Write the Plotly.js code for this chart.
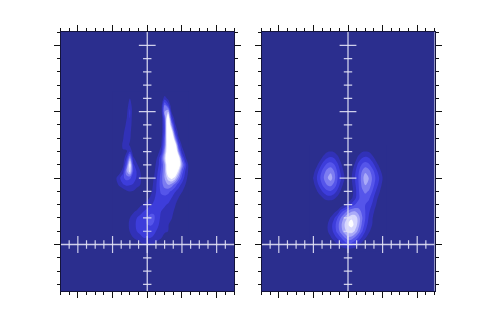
<!DOCTYPE html>
<html><head><meta charset="utf-8">
<script src="https://cdn.plot.ly/plotly-3.0.1.min.js"></script>
<style>html,body{margin:0;padding:0;background:#fff}#c{width:485px;height:323px;filter:blur(0.35px)}</style>
</head><body><div id="c"></div>
<script>
// Grid positions (axis units) and hand-read intensity levels, rows from bottom to top
const leftX=[-1,-.9,-.8,-.7,-.6,-.5,-.4,-.3,-.2,-.1,0,.1,.2,.3,.4,.5,.6,.7,.8,.9,1,1.1,1.2];
const leftY=[-.1,0,.1,.2,.3,.4,.5,.6,.7,.8,.9,1,1.1,1.2,1.3,1.4,1.5,1.6,1.7,1.8,1.9,2,2.1,2.2,2.3];
const leftZ=[
[0,0,0,0,0,0,0,0,0,0,0,0,0,0,0,0,0,0,0,0,0,0,0],
[0,0,0,0,0,0,0,0,.6,1,1.2,1.1,.9,.3,0,0,0,0,0,0,0,0,0],
[0,0,0,0,0,.2,1,1.5,1.8,2,2,2,1.8,1.5,1.1,.5,0,0,0,0,0,0,0],
[0,0,0,0,.3,1.1,1.6,2,2.2,2.4,2.5,2.5,2.2,1.8,1.4,1.2,1,.3,0,0,0,0,0],
[0,0,0,0,.6,1.2,1.8,2.1,2.5,2.8,3,3.1,2.9,2.2,1.6,1.3,1.1,.6,0,0,0,0,0],
[0,0,0,0,.4,1,1.6,2,2.4,2.8,3.1,3.3,3.1,2.4,1.8,1.5,1.3,1.1,.4,0,0,0,0],
[0,0,0,0,0,.3,.8,1.2,1.6,2,2.4,2.8,2.9,2.5,2,1.8,1.6,1.3,.8,.2,0,0,0],
[0,0,0,0,0,0,0,0,.8,1.1,1.5,1.9,2.2,2.3,2.2,2.1,1.9,1.5,1.1,.5,0,0,0],
[0,0,0,0,0,0,0,0,0,0,.7,1.2,1.9,2.4,2.7,2.7,2.5,2,1.4,1,.4,0,0],
[0,0,0,.3,.8,1,.9,.4,0,0,.2,.7,1.5,2.4,3.2,3.5,3.3,2.8,2.1,1.6,1.1,.4,0],
[0,.5,1.3,1.9,2.2,2.1,1.9,1.5,1,.1,0,.5,1.3,2.4,3.5,4.5,5,4.6,3.6,2.5,1.7,1,.2],
[0,.9,1.8,2.8,3.4,3.2,2.4,1.9,1.2,.2,0,.4,1.1,2.2,3.5,5,6.5,7.5,6.5,4.5,2.7,1.5,.5],
[0,0,.5,1.6,4.8,6.5,2.8,1.9,1,0,0,.2,.8,2,3.2,5,8.5,10.5,9,6.5,3.6,1.9,.7],
[0,0,0,.7,3.2,7.5,2.2,1.2,.3,0,0,0,.6,1.6,2.8,5,9,12,12,8.8,5,2.5,.7],
[0,0,0,.3,2,5,1.2,.5,0,0,0,0,.4,1.2,3,6,10,12,12,8.5,3.5,1.2,0],
[0,0,.1,.9,.8,2,.3,0,0,0,0,0,0,.6,1.5,5,9,12,10.5,5,1.6,.5,0],
[0,0,.3,1.2,1.7,.8,0,0,0,0,0,0,0,.2,.9,4,9,12,8.5,3,.8,0,0],
[0,0,0,.9,2,1.2,0,0,0,0,0,0,0,0,.5,3.5,9.5,10.5,5,1.2,.2,0,0],
[0,0,0,.5,1.9,1.4,0,0,0,0,0,0,0,0,.2,3,10,8,2.5,.5,0,0,0],
[0,0,0,.1,1.3,1.8,0,0,0,0,0,0,0,0,.1,3,10,5,1.2,0,0,0,0],
[0,0,0,0,.9,2,.1,0,0,0,0,0,0,0,0,3.5,9,2.5,.4,0,0,0,0],
[0,0,0,0,.6,2.2,.2,0,0,0,0,0,0,0,.2,5,6,1,0,0,0,0,0],
[0,0,0,0,.3,1.7,.2,0,0,0,0,0,0,0,.3,4,2.5,.2,0,0,0,0,0],
[0,0,0,0,0,1,0,0,0,0,0,0,0,0,0,1.6,.7,0,0,0,0,0,0],
[0,0,0,0,0,0,0,0,0,0,0,0,0,0,0,0,0,0,0,0,0,0,0]
];
const rightX=[-1.1,-1,-.9,-.8,-.7,-.6,-.5,-.4,-.3,-.2,-.1,0,.1,.2,.3,.4,.5,.6,.7,.8,.9,1,1.1];
const rightY=[-.1,0,.1,.2,.3,.4,.5,.6,.7,.8,.9,1,1.1,1.2,1.3,1.4,1.5];
const rightZ=[
[0,0,0,0,0,0,0,0,0,0,0,0,0,0,0,0,0,0,0,0,0,0,0],
[0,0,0,0,0,0,0,.4,1,1.5,2.2,2.7,2.5,1.9,1.2,.6,0,0,0,0,0,0,0],
[0,0,0,0,0,.4,.9,1.5,2.2,3,3.9,4.6,4.6,3.8,2.9,1.9,1.1,.5,0,0,0,0,0],
[0,0,0,0,.3,.9,1.4,2.4,3.4,4.5,5.6,6.5,6.6,5.9,4.6,3.2,2,1.2,.6,0,0,0,0],
[0,0,0,0,.3,.9,1.6,2.5,3.6,4.8,6,7,7.3,6.8,5.5,3.9,2.6,1.6,1,.3,0,0,0],
[0,0,0,0,0,.6,1.1,1.9,3,4.1,5.3,6.2,6.9,6.8,5.6,4.2,3,1.9,1.1,.4,0,0,0],
[0,0,0,0,0,0,.3,.7,1.2,2.6,3.4,4.3,4.9,5,4.5,3.8,3,2.2,1.4,.7,0,0,0],
[0,0,0,0,0,0,0,0,0,.3,.8,1.5,2.3,3,3.4,3.3,3,2.6,1.9,1.1,.3,0,0],
[0,0,0,.6,1.1,1.5,1.5,1.2,.7,0,0,.2,.8,1.7,2.8,3.5,3.6,3.2,2.4,1.4,.7,0,0],
[0,0,.9,1.6,2.3,2.8,2.9,2.5,1.7,.8,0,0,.5,1.5,2.8,3.8,4.2,3.9,3,2,1.2,.3,0],
[0,.7,1.6,2.5,3.4,4.1,4.3,3.7,2.6,1.5,.5,0,.7,1.8,2.9,4.2,5.1,4.7,3.6,2.6,1.7,.7,0],
[.3,1.1,2,3,4,4.9,5.5,4.4,3,2,1,0,.9,2,3,4.4,5.7,5,3.9,2.9,2,1,.2],
[0,.7,1.6,2.6,3.6,4.4,4.8,4,2.8,1.7,.7,0,.7,1.8,2.8,4,4.8,4.4,3.5,2.5,1.5,.6,0],
[0,.1,.8,1.7,2.6,3.3,3.5,3.1,2.2,1.2,.2,0,.2,1.2,2.3,3.1,3.5,3.2,2.5,1.6,.8,.1,0],
[0,0,0,.7,1.5,2,2.2,2,1.4,.5,0,0,0,.5,1.4,2,2.3,2.1,1.5,.7,0,0,0],
[0,0,0,0,.4,.9,1,.9,.4,0,0,0,0,0,.4,.9,1,.9,.4,0,0,0,0],
[0,0,0,0,0,0,0,0,0,0,0,0,0,0,0,0,0,0,0,0,0,0,0]
];
const levelStops=[[0,'#2b2e8e'],[.03,'#2b2e8e'],[.0625,'#3030b4'],[.1875,'#3939d8'],[.3125,'#4a4ae8'],[.4375,'#6868ee'],[.5625,'#9090f4'],[.6875,'#b8b8fa'],[.8125,'#e0e0ff'],[.9375,'#ffffff'],[1,'#ffffff']];
const xMajor=[-2,-1,0,1,2];
const xMinor=[-2.25,-1.75,-1.5,-1.25,-.75,-.5,-.25,.25,.5,.75,1.25,1.5,1.75,2.25];
const yMajor=[0,1,2,3];
const yMinor=[-.6,-.4,-.2,.2,.4,.6,.8,1.2,1.4,1.6,1.8,2.2,2.4,2.6,2.8];
const xRange=[-2.5,2.5], yRange=[-.7,3.2];

function contour(x,y,z,xa,ya){return {type:'contour',x,y,z,xaxis:xa,yaxis:ya,showscale:false,hoverinfo:'skip',
  zmin:0,zmax:8,colorscale:levelStops,autocontour:false,
  contours:{start:1,end:8,size:1,coloring:'fill',showlines:false},line:{width:0,smoothing:1.0}};}
function cross(xa,ya){
  const crossColor='rgba(225,225,245,0.9)';
  const mk=(size)=>({symbol:'line-ns',size,line:{color:crossColor,width:1.2}});
  const mkh=(size)=>({symbol:'line-ew',size,line:{color:crossColor,width:1.2}});
  return [
   {type:'scatter',mode:'lines',x:xRange,y:[0,0],xaxis:xa,yaxis:ya,line:{color:crossColor,width:1.3},hoverinfo:'skip'},
   {type:'scatter',mode:'lines',x:[0,0],y:yRange,xaxis:xa,yaxis:ya,line:{color:crossColor,width:1.3},hoverinfo:'skip'},
   {type:'scatter',mode:'markers',x:xMajor,y:xMajor.map(()=>0),xaxis:xa,yaxis:ya,marker:mk(12),hoverinfo:'skip'},
   {type:'scatter',mode:'markers',x:xMinor,y:xMinor.map(()=>0),xaxis:xa,yaxis:ya,marker:mk(6),hoverinfo:'skip'},
   {type:'scatter',mode:'markers',x:yMajor.map(()=>0),y:yMajor,xaxis:xa,yaxis:ya,marker:mkh(12),hoverinfo:'skip'},
   {type:'scatter',mode:'markers',x:yMinor.map(()=>0),y:yMinor,xaxis:xa,yaxis:ya,marker:mkh(6),hoverinfo:'skip'}
  ];
}
const frame='#14143c';
function xa(dom,anc){return {domain:dom,anchor:anc,range:xRange,showgrid:false,zeroline:false,showticklabels:false,showline:true,linecolor:frame,linewidth:1,mirror:'ticks',ticks:'outside',ticklen:6,tickwidth:1,tickcolor:'#111',tick0:0,dtick:1,minor:{ticks:'outside',ticklen:3,tickwidth:1,tickcolor:'#111',dtick:.25,tick0:0,showgrid:false}};}
function ya(anc){return {domain:[1-291/323,1-32/323],anchor:anc,range:yRange,showgrid:false,zeroline:false,showticklabels:false,showline:true,linecolor:frame,linewidth:1,mirror:'ticks',ticks:'outside',ticklen:6,tickwidth:1,tickcolor:'#111',tick0:0,dtick:1,minor:{ticks:'outside',ticklen:3,tickwidth:1,tickcolor:'#111',dtick:.2,tick0:0,showgrid:false}};}
const data=[contour(leftX,leftY,leftZ,'x','y'),contour(rightX,rightY,rightZ,'x2','y2'),...cross('x','y'),...cross('x2','y2')];
const layout={width:485,height:323,margin:{l:0,r:0,t:0,b:0},paper_bgcolor:'#fff',plot_bgcolor:'#2b2e8e',showlegend:false,
 xaxis:xa([60.5/485,234/485],'y'),yaxis:ya('x'),xaxis2:xa([261.5/485,434.5/485],'y2'),yaxis2:ya('x2')};
Plotly.newPlot('c',data,layout,{staticPlot:true,displayModeBar:false});
</script></body></html>
